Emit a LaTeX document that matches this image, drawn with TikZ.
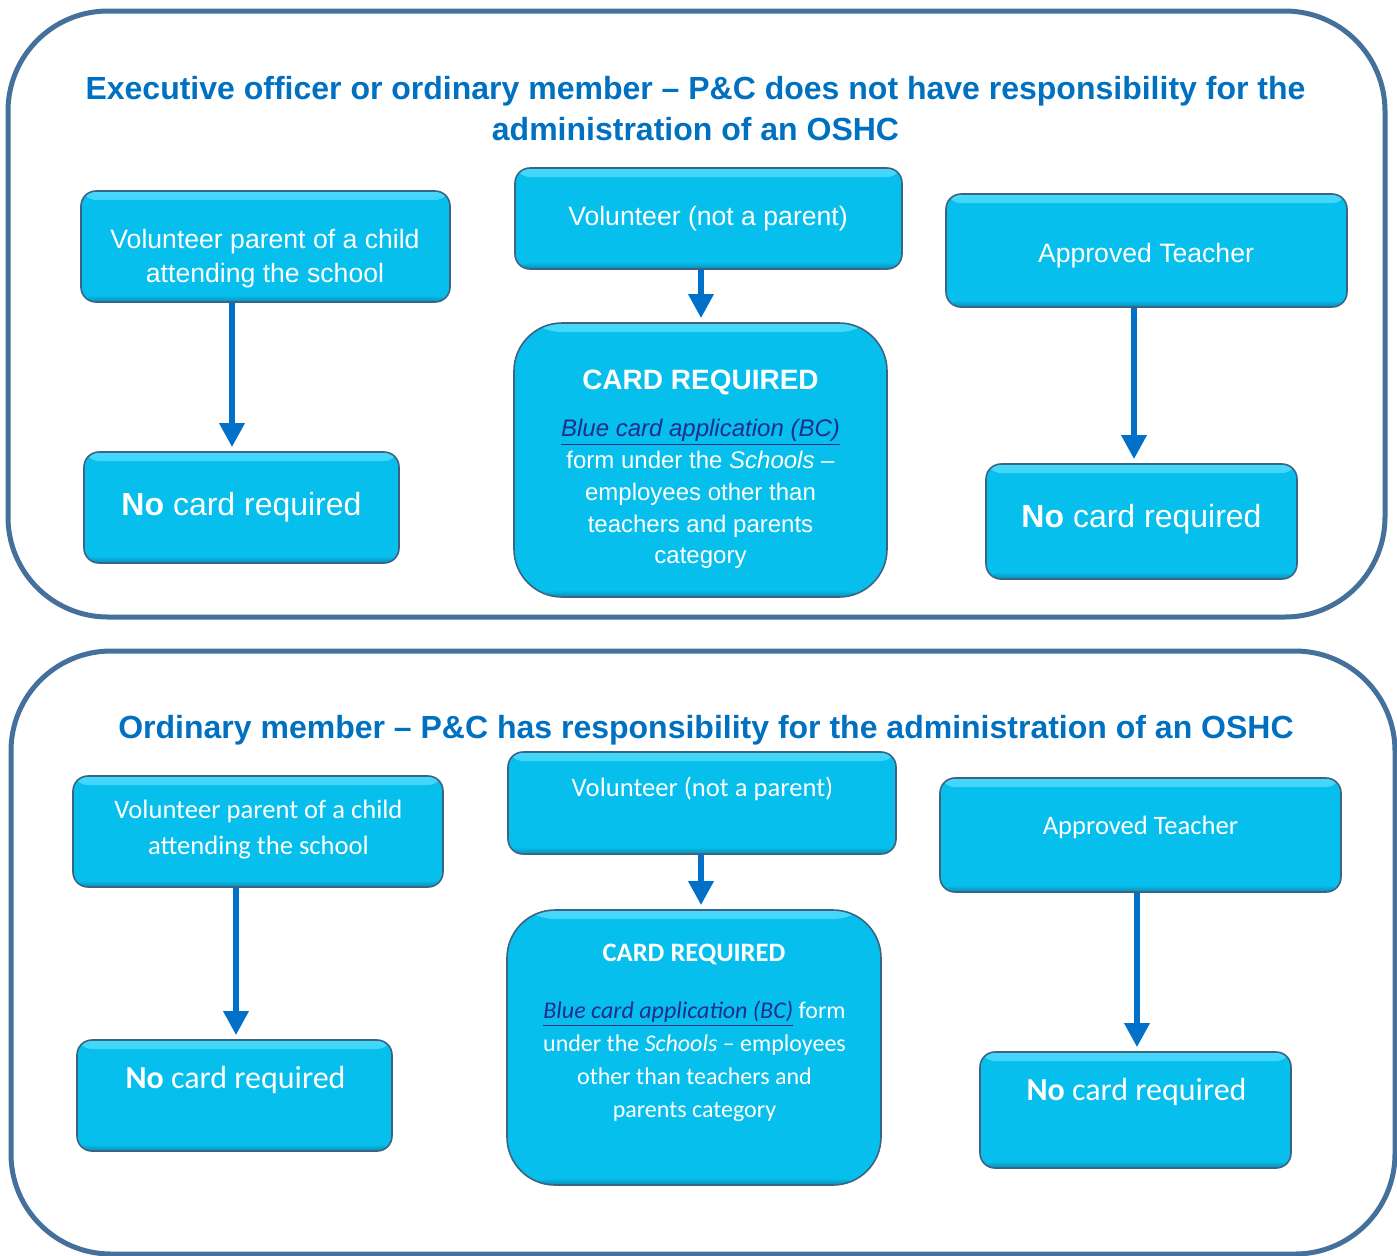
\documentclass[tikz,border=0pt]{standalone}
\usepackage{fontspec}
\setmainfont{Liberation Sans}
\newfontfamily\calib[Ligatures=TeX]{Carlito}
\usetikzlibrary{arrows.meta}
\definecolor{titleblue}{HTML}{0070C0}
\definecolor{arrowblue}{HTML}{0070C9}
\definecolor{framecol}{HTML}{44709B}
\definecolor{boxfill}{HTML}{06BFEC}
\definecolor{boxedge}{HTML}{3C6383}
\definecolor{boxhi}{HTML}{45D8FB}
\definecolor{boxlo}{HTML}{0A8DB6}
\definecolor{linkcol}{HTML}{1F2E8C}
\tikzset{
  frame/.style={draw=framecol, line width=2.5pt, rounded corners=50pt},
  card/.style={rectangle, rounded corners=7.5pt, fill=boxfill, draw=boxedge, line width=0.8pt, inner sep=0pt,
    path picture={
      \fill[top color=boxhi, bottom color=boxfill] (path picture bounding box.north west) rectangle ([yshift=-4.5pt]path picture bounding box.north east);
      \fill[top color=boxfill, bottom color=boxlo] ([yshift=3.5pt]path picture bounding box.south west) rectangle (path picture bounding box.south east);
    }},
  bigcard/.style={card, rounded corners=24pt},
  flow/.style={draw=arrowblue, line width=3.2pt, -{Triangle[width=12pt,length=12pt]}, shorten >=2pt},
  ttl/.style={text=titleblue, font=\bfseries\fontsize{16}{20.5}\selectfont, align=center, inner sep=0pt},
  ta/.style={text=white, font=\fontsize{13.3}{17}\selectfont, align=center, inner sep=0pt},
  tano/.style={text=white, font=\fontsize{16}{20}\selectfont, align=center, inner sep=0pt},
  tahead/.style={text=white, font=\bfseries\fontsize{14}{17}\selectfont, align=center, inner sep=0pt},
  tabody/.style={text=white, font=\fontsize{12}{15.9}\selectfont, align=center, inner sep=0pt},
  tc/.style={text=white, font=\calib\fontsize{13.3}{18}\selectfont, align=center, inner sep=0pt},
  tcno/.style={text=white, font=\calib\fontsize{16}{20}\selectfont, align=center, inner sep=0pt},
  tchead/.style={text=white, font=\calib\bfseries\fontsize{13.3}{16}\selectfont, align=center, inner sep=0pt},
  tcbody/.style={text=white, font=\calib\fontsize{12}{16.5}\selectfont, align=center, inner sep=0pt},
}
\newcommand{\bclink}{\textcolor{linkcol}{\underline{\itshape Blue card application (BC)}}}
\begin{document}
\begin{tikzpicture}[x=0.5pt, y=-0.5pt]
\useasboundingbox (0,0) rectangle (1397,1255);
\begin{scope}
\clip (0,0) rectangle (1397,1255);
% ---------- frames
\draw[frame] (8,11) rectangle (1385,617);
\draw[frame] (11,651) rectangle (1395,1254);
\end{scope}

% ---------- top section
\node[ttl] (t1) at (695.5,109) {Executive officer or ordinary member \textendash{} P\&C does not have responsibility for the\\administration of an OSHC};

\node[card, minimum width=184.5pt, minimum height=55.5pt] (a1) at (265.5,246.5) {};
\node[ta] (a1t) at (265,259) {Volunteer parent of a child\\attending the school};
\node[card, minimum width=157.5pt, minimum height=55.5pt] (a2) at (241.5,507.5) {};
\node[tano] (a2t) at (241.5,507) {\textbf{No} card required};

\node[card, minimum width=193.5pt, minimum height=50.5pt] (b1) at (708.5,218.5) {};
\node[ta] (b1t) at (708,219) {Volunteer (not a parent)};
\node[bigcard, minimum width=186.5pt, minimum height=137pt] (b2) at (700.5,460) {};
\node[tahead] (b2h) at (700.5,382) {CARD REQUIRED};
\node[tabody] (b2t) at (700.5,494) {\bclink\\form under the \textit{Schools} \textendash\\employees other than\\teachers and parents\\category};

\node[card, minimum width=200.5pt, minimum height=56.5pt] (c1) at (1146.5,250.5) {};
\node[ta] (c1t) at (1146,256) {Approved Teacher};
\node[card, minimum width=155.5pt, minimum height=57.5pt] (c2) at (1141.5,521.5) {};
\node[tano] (c2t) at (1141.5,519) {\textbf{No} card required};

\coordinate (xa) at (232,0);
\coordinate (xb) at (701,0);
\coordinate (xc) at (1134,0);
\draw[flow] (a1.south -| xa) -- (a2.north -| xa);
\draw[flow] (b1.south -| xb) -- (b2.north -| xb);
\draw[flow] (c1.south -| xc) -- (c2.north -| xc);

% ---------- bottom section
\node[ttl] (t2) at (706,730) {Ordinary member \textendash{} P\&C has responsibility for the administration of an OSHC};

\node[card, minimum width=185pt, minimum height=55.5pt] (d1) at (258,831.5) {};
\node[tc] (d1t) at (258.5,830) {Volunteer parent of a child\\attending the school};
\node[card, minimum width=157.5pt, minimum height=55.5pt] (d2) at (234.5,1095.5) {};
\node[tcno] (d2t) at (235.5,1080) {\textbf{No} card required};

\node[card, minimum width=194pt, minimum height=51pt] (e1) at (702,803) {};
\node[tc] (e1t) at (702.5,789) {Volunteer (not a parent)};
\node[bigcard, minimum width=187pt, minimum height=137.5pt] (e2) at (694,1047.5) {};
\node[tchead] (e2h) at (694,954) {CARD REQUIRED};
\node[tcbody] (e2t) at (694.5,1061.5) {\bclink{} form\\under the \textit{Schools} \textendash{} employees\\other than teachers and\\parents category};

\node[card, minimum width=200.5pt, minimum height=57pt] (f1) at (1140.5,835) {};
\node[tc] (f1t) at (1140.5,827) {Approved Teacher};
\node[card, minimum width=155.5pt, minimum height=58pt] (f2) at (1135.5,1110) {};
\node[tcno] (f2t) at (1136.5,1092) {\textbf{No} card required};

\coordinate (xd) at (236,0);
\coordinate (xe) at (701,0);
\coordinate (xf) at (1137,0);
\draw[flow] (d1.south -| xd) -- (d2.north -| xd);
\draw[flow] (e1.south -| xe) -- (e2.north -| xe);
\draw[flow] (f1.south -| xf) -- (f2.north -| xf);
\end{tikzpicture}
\end{document}
